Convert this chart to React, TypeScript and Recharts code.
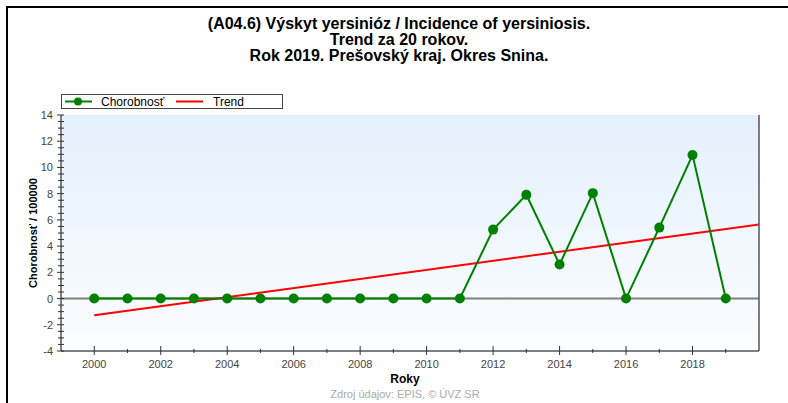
import React from "react";
import {
  ComposedChart,
  Line,
  XAxis,
  YAxis,
  CartesianGrid,
  ReferenceLine,
} from "recharts";

const years = [2000, 2001, 2002, 2003, 2004, 2005, 2006, 2007, 2008, 2009, 2010, 2011, 2012, 2013, 2014, 2015, 2016, 2017, 2018, 2019];
const rates = [0, 0, 0, 0, 0, 0, 0, 0, 0, 0, 0, 0, 5.26, 7.91, 2.6, 8.04, 0, 5.41, 10.95, 0];
const trendYears = [2000, 2020];
const trendValues = [-1.28, 5.65];
const xTicks = [2000, 2001, 2002, 2003, 2004, 2005, 2006, 2007, 2008, 2009, 2010, 2011, 2012, 2013, 2014, 2015, 2016, 2017, 2018, 2019];
const yTicks = [-4, -3.5, -3, -2.5, -2, -1.5, -1, -0.5, 0, 0.5, 1, 1.5, 2, 2.5, 3, 3.5, 4, 4.5, 5, 5.5, 6, 6.5, 7, 7.5, 8, 8.5, 9, 9.5, 10, 10.5, 11, 11.5, 12, 12.5, 13, 13.5, 14];

const titleLines = [
  "(A04.6) Výskyt yersinióz / Incidence of yersiniosis.",
  "Trend za 20 rokov.",
  "Rok 2019. Prešovský kraj. Okres Snina.",
];

const data = years.map((y, i) => ({ year: y, rate: rates[i] }));
const trendData = trendYears.map((y, i) => ({ year: y, trend: trendValues[i] }));

const FONT = "Arial, 'Liberation Sans', Helvetica, sans-serif";
const AXIS_COLOR = "#555555";

const LeftTick = (props: any) => {
  const { x, y, payload } = props;
  const v = payload.value;
  const major = Number.isInteger(v) && v % 2 === 0;
  return (
    <g>
      <line x1={x - (major ? 4 : 3)} x2={x + 3} y1={y} y2={y} stroke="#333" strokeWidth={1} />
      {major && (
        <text x={x - 8} y={y + 4} textAnchor="end" fontSize={11} fill="#444" fontFamily={FONT}>
          {v}
        </text>
      )}
    </g>
  );
};

const RightTick = (props: any) => {
  const { x, y, payload } = props;
  const v = payload.value;
  const major = Number.isInteger(v) && v % 2 === 0;
  return (
    <g>
      <line x1={x - 3} x2={x + (major ? 4 : 3)} y1={y} y2={y} stroke="#333" strokeWidth={1} />
      {major && (
        <text x={x + 8} y={y + 4} textAnchor="start" fontSize={11} fill="#444" fontFamily={FONT}>
          {v}
        </text>
      )}
    </g>
  );
};

const BottomTick = (props: any) => {
  const { x, y, payload } = props;
  const v = payload.value;
  const major = v % 2 === 0;
  return (
    <g>
      <line x1={x} x2={x} y1={y - (major ? 5 : 2)} y2={y + (major ? 4 : 2)} stroke="#333" strokeWidth={1} />
      {major && (
        <text x={x} y={y + 17} textAnchor="middle" fontSize={11} fill="#444" fontFamily={FONT}>
          {v}
        </text>
      )}
    </g>
  );
};

const TopTick = (props: any) => {
  const { x, y, payload } = props;
  const v = payload.value;
  const major = v % 2 === 0;
  return <line x1={x} x2={x} y1={y} y2={y + (major ? 5 : 3)} stroke="#333" strokeWidth={1} />;
};

export default function App() {
  return (
    <div style={{ position: "absolute", left: 0, top: 0, width: 788, height: 403, overflow: "hidden", background: "#fff" }}>
      <div
        style={{
          position: "absolute",
          left: 6,
          top: 6,
          width: 900,
          height: 500,
          borderTop: "2px solid #000",
          borderLeft: "2px solid #000",
        }}
      />
      <svg width={788} height={403} style={{ position: "absolute", left: 0, top: 0 }}>
        {titleLines.map((t, i) => (
          <text
            key={i}
            x={399}
            y={29 + i * 16}
            textAnchor="middle"
            fontSize={16}
            fontWeight="bold"
            fill="#000"
            fontFamily={FONT}
          >
            {t}
          </text>
        ))}
      </svg>
      <div style={{ position: "absolute", left: 0, top: 0 }}>
        <ComposedChart
          width={788}
          height={403}
          margin={{ top: 115, right: 4, bottom: 22, left: 21 }}
        >
          <defs>
            <linearGradient id="bgGrad" x1="0" y1="0" x2="0" y2="1">
              <stop offset="0%" stopColor="#e4f0fc" />
              <stop offset="100%" stopColor="#fbfdff" />
            </linearGradient>
          </defs>
          <CartesianGrid horizontal={false} vertical={false} fill="url(#bgGrad)" />
          <XAxis
            xAxisId="bottom"
            dataKey="year"
            type="number"
            domain={[1999, 2020]}
            ticks={xTicks}
            allowDataOverflow
            height={30}
            tickSize={0}
            tickMargin={0}
            tick={BottomTick}
            axisLine={{ stroke: AXIS_COLOR, strokeWidth: 1.5 }}
            interval={0}
          />
          <XAxis
            xAxisId="top"
            orientation="top"
            dataKey="year"
            type="number"
            domain={[1999, 2020]}
            ticks={xTicks}
            allowDataOverflow
            height={0}
            tickSize={0}
            tickMargin={0}
            tick={TopTick}
            axisLine={{ stroke: AXIS_COLOR, strokeWidth: 1.5 }}
            interval={0}
          />
          <YAxis
            yAxisId="left"
            type="number"
            domain={[-4, 14]}
            ticks={yTicks}
            interval={0}
            width={40}
            tickSize={0}
            tickMargin={0}
            tick={LeftTick}
            axisLine={{ stroke: AXIS_COLOR, strokeWidth: 1.5 }}
          />
          <YAxis
            yAxisId="right"
            orientation="right"
            type="number"
            domain={[-4, 14]}
            ticks={yTicks}
            interval={0}
            width={25}
            tickSize={0}
            tickMargin={0}
            tick={RightTick}
            axisLine={{ stroke: AXIS_COLOR, strokeWidth: 1.5 }}
          />
          <ReferenceLine xAxisId="bottom" yAxisId="left" y={0} stroke="#808080" strokeWidth={2} />
          <Line
            xAxisId="bottom"
            yAxisId="left"
            data={trendData}
            dataKey="trend"
            stroke="#ff0000"
            strokeWidth={2}
            dot={false}
            activeDot={false}
            isAnimationActive={false}
            legendType="none"
          />
          <Line
            xAxisId="bottom"
            yAxisId="left"
            data={data}
            dataKey="rate"
            stroke="#008000"
            strokeWidth={2}
            dot={{ r: 5, fill: "#008000", stroke: "#008000", strokeWidth: 0 }}
            activeDot={false}
            isAnimationActive={false}
          />
        </ComposedChart>
      </div>
      <svg width={788} height={403} style={{ position: "absolute", left: 0, top: 0, pointerEvents: "none" }}>
        <rect x={61.5} y={94.5} width={221} height={14} fill="#fff" stroke="#444" strokeWidth={1} />
        <line x1={65} x2={92} y1={101.5} y2={101.5} stroke="#008000" strokeWidth={2} />
        <circle cx={78} cy={101.5} r={4} fill="#008000" />
        <text x={101} y={106} fontSize={12} fill="#000" fontFamily={FONT}>Chorobnosť</text>
        <line x1={176} x2={203} y1={101.5} y2={101.5} stroke="#ff0000" strokeWidth={2} />
        <text x={213} y={106} fontSize={12} fill="#000" fontFamily={FONT}>Trend</text>
        <text
          x={37}
          y={233}
          transform="rotate(-90 37 233)"
          textAnchor="middle"
          fontSize={11}
          fontWeight="bold"
          fill="#000"
          fontFamily={FONT}
        >
          Chorobnosť / 100000
        </text>
        <text x={405} y={383} textAnchor="middle" fontSize={12} fontWeight="bold" fill="#000" fontFamily={FONT}>
          Roky
        </text>
        <text x={405} y={398} textAnchor="middle" fontSize={11} fill="#aaaaaa" fontFamily={FONT}>
          Zdroj údajov: EPIS, © ÚVZ SR
        </text>
      </svg>
    </div>
  );
}
